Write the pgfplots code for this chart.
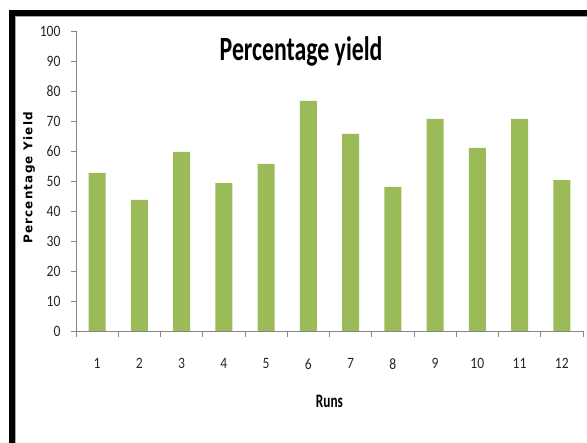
\documentclass[border=0pt]{standalone}
\usepackage{pgfplots}
\pgfplotsset{compat=1.18}
\usepackage{fontspec}
\setmainfont{Carlito}
\newfontfamily\tickfont[FakeStretch=0.86]{Carlito}
\newfontfamily\titlefont[FakeStretch=0.7]{Carlito}
\newfontfamily\ylabfont[LetterSpace=10]{DejaVu Sans}
\definecolor{bargreen}{HTML}{9BBB59}
\definecolor{axisgray}{HTML}{868686}

\begin{document}
\begin{tikzpicture}
\useasboundingbox (0pt,0pt) rectangle (587pt,443pt);
% frame: heavy black rule on the left and top, thin grey inner edge
\fill[black] (9pt,0pt) rectangle (15pt,433pt);
\fill[black] (9pt,427pt) rectangle (587pt,433pt);
\fill[gray!70] (15pt,0pt) rectangle (16pt,427pt);
\fill[gray!70] (15pt,426pt) rectangle (587pt,427pt);

\begin{axis}[
  at={(76pt,112pt)}, anchor=origin,
  scale only axis, width=507pt, height=300pt,
  xmin=0.5, xmax=12.5, ymin=0, ymax=100,
  axis lines*=left,
  axis line style={axisgray, line width=0.8pt},
  xtick={1,...,12},
  minor xtick={0.5,1.5,...,12.5},
  ytick={0,10,...,100},
  tick align=outside,
  major x tick style={draw=none},
  minor x tick style={axisgray, line width=0.8pt},
  minor tick length=6pt,
  major tick length=5pt,
  y tick style={axisgray, line width=0.8pt},
  /pgf/number format/assume math mode=true,
  ticklabel style={font=\tickfont\fontsize{15.8}{16}\selectfont, text=black!85},
  xticklabel style={yshift=-19pt},
  yticklabel style={xshift=-7pt},
  title={Percentage yield},
  title style={font=\titlefont\bfseries\fontsize{34}{36}\selectfont,
    at={(axis description cs:0.444,1)}, anchor=base, yshift=-36pt},
  xlabel={Runs},
  xlabel style={font=\titlefont\bfseries\fontsize{19}{20}\selectfont,
    at={(axis description cs:0.5,0)}, anchor=center, yshift=-70pt},
  ylabel={Percentage Yield},
  % the label is turned by 90 degrees, so its own x runs upward, its y leftward
  ylabel style={font=\ylabfont\bfseries\fontsize{12}{14}\selectfont,
    at={(axis description cs:0,0.5)}, anchor=center, yshift=47pt, xshift=3pt},
  ybar, bar width=17pt,
]
\addplot[fill=bargreen, draw=none] coordinates {
  (1,52.7) (2,43.7) (3,59.7) (4,49.3) (5,55.7) (6,76.7)
  (7,65.7) (8,48.0) (9,70.7) (10,61.0) (11,70.7) (12,50.3)
};
\end{axis}
\end{tikzpicture}
\end{document}
